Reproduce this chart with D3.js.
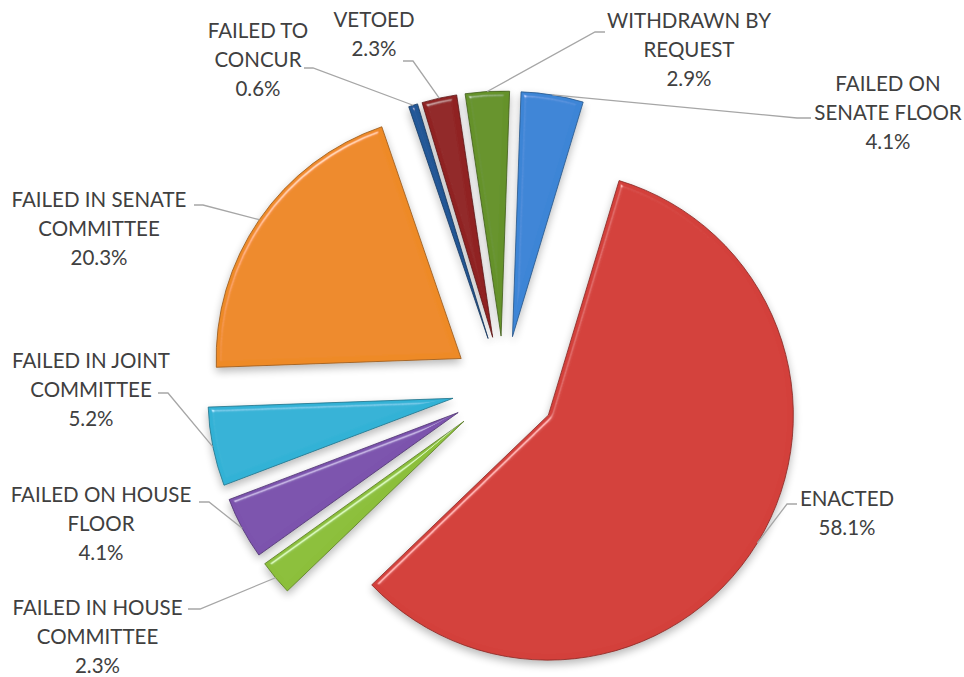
<!DOCTYPE html>
<html><head><meta charset="utf-8">
<script src="https://cdn.jsdelivr.net/npm/d3@7"></script>
<style>
body{margin:0;background:#fff;}
svg{display:block;}
text{font-family:Lato,"Open Sans",sans-serif;}
</style>
</head><body>
<svg id="chart" width="964" height="677"></svg>
<script>
// ---- data ----
const categories = ["FAILED ON SENATE FLOOR","ENACTED","FAILED IN HOUSE COMMITTEE","FAILED ON HOUSE FLOOR","FAILED IN JOINT COMMITTEE","FAILED IN SENATE COMMITTEE","FAILED TO CONCUR","VETOED","WITHDRAWN BY REQUEST"];
const values = [4.1, 58.1, 2.3, 4.1, 5.2, 20.3, 0.6, 2.3, 2.9];
const colors = ["#3c85d6","#d33f3a","#8cbf3a","#7b52ad","#33b2d6","#ee8a28","#225898","#902222","#65922a"];
const labelLines = [["FAILED ON","SENATE FLOOR"],["ENACTED"],["FAILED IN HOUSE","COMMITTEE"],["FAILED ON HOUSE","FLOOR"],["FAILED IN JOINT","COMMITTEE"],["FAILED IN SENATE","COMMITTEE"],["FAILED TO","CONCUR"],["VETOED"],["WITHDRAWN BY","REQUEST"]];

// ---- layout ----
const W = 964, H = 677;
const cx = 504, cy = 388, R = 245, explode = 52;
const startDeg = 2;
const lineH = 28.8;
const labelLayout = [
  {x:888, y:91,  knee:[797,118], end:[811,118]},
  {x:847, y:506, knee:[787,504], end:[797,504]},
  {x:97.5,y:615, knee:[200,609], end:[188,609]},
  {x:101, y:502, knee:[209,502], end:[199,502]},
  {x:91,  y:368, knee:[168,393], end:[158,393]},
  {x:99,  y:207, knee:[203,205], end:[194,205]},
  {x:258, y:38,  knee:[313,68],  end:[304,68]},
  {x:374, y:27,  knee:[413,61],  end:[403,61]},
  {x:689, y:28,  knee:[595,32],  end:[605,32]}
];

const svg = d3.select("#chart");
const defs = svg.append("defs");
const f = defs.append("filter").attr("id","bevel")
  .attr("x","-20%").attr("y","-20%").attr("width","140%").attr("height","140%");
f.append("feGaussianBlur").attr("in","SourceAlpha").attr("stdDeviation",2.5).attr("result","blur");
const spec = f.append("feSpecularLighting").attr("in","blur").attr("surfaceScale",5)
  .attr("specularConstant",0.9).attr("specularExponent",45).attr("lighting-color","#ffffff").attr("result","spec");
spec.append("feDistantLight").attr("azimuth",235).attr("elevation",40);
f.append("feComposite").attr("in","spec").attr("in2","SourceAlpha").attr("operator","in").attr("result","specIn");
f.append("feComposite").attr("in","SourceGraphic").attr("in2","specIn").attr("operator","arithmetic")
  .attr("k1",0).attr("k2",1).attr("k3",0.5).attr("k4",0).attr("result","lit");
f.append("feGaussianBlur").attr("in","SourceAlpha").attr("stdDeviation",4).attr("result","sblur");
f.append("feOffset").attr("in","sblur").attr("dx",0).attr("dy",4).attr("result","soff");
f.append("feComponentTransfer").attr("in","soff").attr("result","shadow")
  .append("feFuncA").attr("type","linear").attr("slope",0.28);
const fm = f.append("feMerge");
fm.append("feMergeNode").attr("in","shadow");
fm.append("feMergeNode").attr("in","lit");

const data = categories.map((c,i)=>({cat:c, value:values[i], color:colors[i], lines:labelLines[i], lay:labelLayout[i]}));
const start = startDeg*Math.PI/180;
const pie = d3.pie().sort(null).value(d=>d.value).startAngle(start).endAngle(start+2*Math.PI);
const arcs = pie(data);
const arc = d3.arc().innerRadius(0).outerRadius(R);

const g = svg.append("g").attr("transform",`translate(${cx},${cy})`);
arcs.forEach(a=>{
  a.mid = (a.startAngle+a.endAngle)/2;
  a.ox = explode*Math.sin(a.mid);
  a.oy = -explode*Math.cos(a.mid);
});
g.selectAll("path.slice").data(arcs).join("path")
  .attr("class","slice")
  .attr("transform",d=>`translate(${d.ox},${d.oy})`)
  .attr("d",arc)
  .attr("fill",d=>d.data.color)
  .attr("stroke",d=>d3.color(d.data.color).darker(1.3))
  .attr("stroke-width",0.8)
  .attr("stroke-linejoin","round")
  .attr("filter","url(#bevel)");

// leader lines
const fmt = d3.format(".1f");
const lg = svg.append("g");
arcs.forEach(a=>{
  const px = cx + a.ox + R*Math.sin(a.mid);
  const py = cy + a.oy - R*Math.cos(a.mid);
  const L = a.data.lay;
  lg.append("polyline")
    .attr("points",`${px},${py} ${L.knee[0]},${L.knee[1]} ${L.end[0]},${L.end[1]}`)
    .attr("fill","none").attr("stroke","#a6a6a6").attr("stroke-width",1.3);
});

// labels
const tg = svg.append("g");
arcs.forEach(a=>{
  const L = a.data.lay;
  const t = tg.append("text").attr("text-anchor","middle").attr("fill","#404040")
    .attr("font-size",20.5);
  const rows = a.data.lines.concat([fmt(a.data.value)+"%"]);
  rows.forEach((r,i)=>{
    t.append("tspan").attr("x",L.x).attr("y",L.y+i*lineH).text(r);
  });
});
</script>
</body></html>
